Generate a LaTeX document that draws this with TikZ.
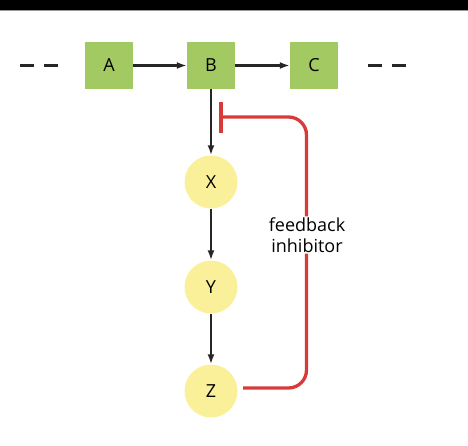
\documentclass[tikz,border=0pt]{standalone}
\usepackage{fontspec}
\setmainfont{Open Sans}
\usetikzlibrary{arrows.meta}
\definecolor{boxgreen}{HTML}{A3C962}
\definecolor{circyellow}{HTML}{FBF09A}
\definecolor{inhred}{HTML}{D83A3A}
\tikzset{
  x=1pt,y=-1pt,
  enzbox/.style={fill=boxgreen,minimum width=48pt,minimum height=47pt,inner sep=0pt,font=\fontsize{18}{20}\selectfont},
  metab/.style={circle,fill=circyellow,minimum size=53pt,inner sep=0pt,font=\fontsize{18}{20}\selectfont},
  flow/.style={draw=black!85,line width=2.2pt,-{Latex[length=10pt,width=7pt]}},
  dashpart/.style={draw=black!85,line width=2.3pt,dash pattern=on 14pt off 10pt},
  inhib/.style={draw=inhred,line width=3.3pt,rounded corners=18pt},
}
\begin{document}
\begin{tikzpicture}
\useasboundingbox (0,0) rectangle (468,446);
\fill[black] (0,0) rectangle (468,10);
\fill[black!40] (0,10) rectangle (468,11);
\node[enzbox] (A) at (109,65.5) {A};
\node[enzbox] (B) at (211,65.5) {B};
\node[enzbox] (C) at (314,65.5) {C};
\node[metab] (X) at (211,182) {X};
\node[metab] (Y) at (211,287) {Y};
\node[metab] (Z) at (211,391) {Z};
\coordinate (L1) at (20,65.5);
\coordinate (L2) at (60,65.5);
\coordinate (R1) at (368,65.5);
\coordinate (R2) at (408,65.5);
\draw[dashpart] (L1) -- (L2);
\draw[dashpart] (R1) -- (R2);
\draw[flow] (A) -- (B);
\draw[flow] (B) -- (C);
\draw[flow] (B) -- (X);
\draw[flow] (X) -- (Y);
\draw[flow] (Y) -- (Z);
\node[font=\fontsize{18}{21}\selectfont,align=center,inner sep=1pt] (T) at (307,235) {feedback\\inhibitor};
\coordinate (bar) at (221,117);
\coordinate (bartop) at (221,102.5);
\coordinate (barbot) at (221,133);
\coordinate (corner1) at (306.5,117);
\coordinate (corner2) at (306.5,388);
\coordinate (zs) at (243,388);
\draw[draw=inhred,line width=3.3pt] (bartop) -- (barbot);
\draw[inhib] (bar) -- (corner1) -- (T.north -| corner1);
\draw[inhib] (T.south -| corner2) -- (corner2) -- (zs);
\end{tikzpicture}
\end{document}
